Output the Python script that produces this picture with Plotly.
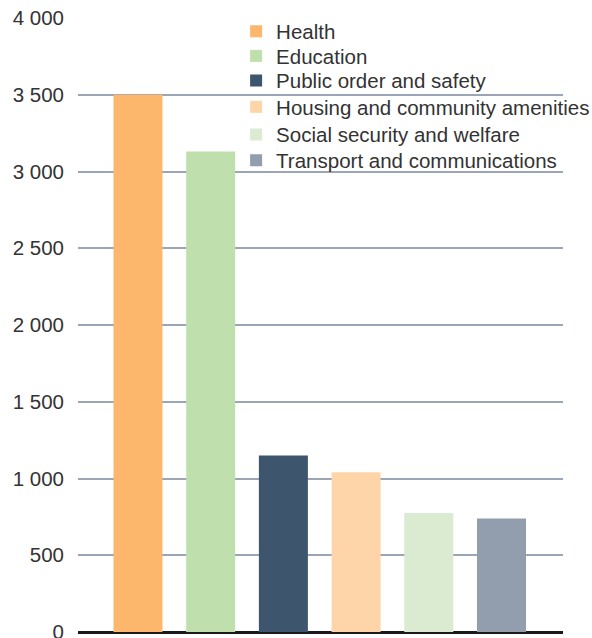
import plotly.graph_objects as go

categories = ["Health", "Education", "Public order and safety",
              "Housing and community amenities", "Social security and welfare",
              "Transport and communications"]
values = [3500, 3130, 1150, 1040, 775, 740]
colors = ["#FDB76D", "#BFE0AD", "#3D566E", "#FED5A8", "#DAEBD2", "#929DAD"]
tick_vals = [0, 500, 1000, 1500, 2000, 2500, 3000, 3500, 4000]

# legend item vertical centres (paper coords)
legend_y = [0.978, 0.938, 0.898, 0.855, 0.810, 0.768]

fig = go.Figure()
layout_legends = {}
for i, (cat, val, col) in enumerate(zip(categories, values, colors)):
    lg = "legend" if i == 0 else f"legend{i + 1}"
    fig.add_trace(go.Bar(x=[i], y=[val], name=cat,
                         marker=dict(color=col, line=dict(width=0)),
                         width=0.674, showlegend=True, legend=lg))
    layout_legends[lg] = dict(x=0.326, y=legend_y[i], xanchor="left", yanchor="middle",
                              bgcolor="rgba(0,0,0,0)",
                              font=dict(size=20.5, color="#333333"))

fig.update_layout(
    width=592, height=638,
    margin=dict(l=78, r=29, t=18, b=6, autoexpand=False),
    paper_bgcolor="white", plot_bgcolor="white",
    barmode="overlay",
    separators=", ",
    font=dict(family="Liberation Sans, Arial, sans-serif", size=20, color="#333333"),
    showlegend=True,
    xaxis=dict(range=[-0.825, 5.846], showticklabels=False, showgrid=False,
               zeroline=False, showline=False, fixedrange=True),
    yaxis=dict(range=[0, 4000], tickvals=tick_vals, tickformat=",d",
               showgrid=True, gridcolor="#9AA6B5", gridwidth=1.5,
               zeroline=True, zerolinecolor="#1a1a1a", zerolinewidth=3,
               showline=False, ticks="", ticklabelstandoff=13,
               ticklabeloverflow="allow", automargin=False,
               tickfont=dict(size=20.5, color="#333333")),
    **layout_legends,
)

fig.write_html("out.html")
